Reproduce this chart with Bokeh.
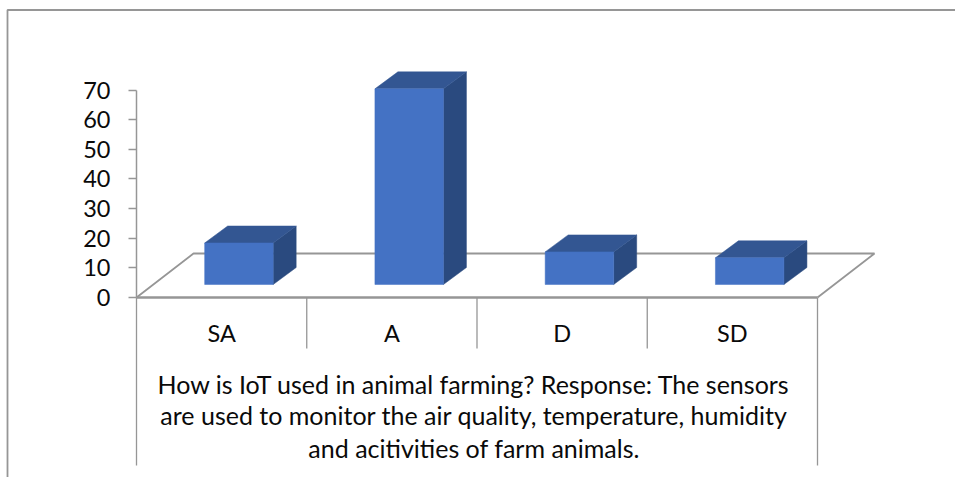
from bokeh.plotting import figure
from bokeh.models import Range1d, LinearAxis, FixedTicker
from bokeh.core.properties import value
from bokeh.embed import file_html
from bokeh.resources import INLINE

categories = ["SA", "A", "D", "SD"]
values = [14, 66, 11, 9]
y_ticks = [0, 10, 20, 30, 40, 50, 60, 70]
caption = ["How is IoT used in animal farming? Response: The sensors",
           "are used to monitor the air quality, temperature, humidity",
           "and acitivities of farm animals."]

W, H = 955, 477
PX_X = 170.25          # pixels per category
PX_Y = 207.5 / 70      # pixels per value unit
OX, OY = 136, 297      # origin inside the figure

FONT = "Lato"
GREY = "#969696"
FRONT, SIDE, TOP = "#4472c4", "#2a4a7f", "#335692"

p = figure(width=W, height=H, output_backend="svg", toolbar_location=None,
           x_range=Range1d(-OX / PX_X, (W - OX) / PX_X),
           y_range=Range1d(-(H - OY) / PX_Y, OY / PX_Y),
           x_axis_type=None, y_axis_type=None,
           min_border=0, min_border_left=0, min_border_right=0,
           min_border_top=0, min_border_bottom=0, outline_line_color=None)
p.grid.visible = False

yax = LinearAxis(ticker=FixedTicker(ticks=y_ticks), fixed_location=0, bounds=(0, 70))
yax.axis_line_color = GREY
yax.axis_line_width = 1.5
yax.major_tick_line_color = GREY
yax.major_tick_line_width = 1.5
yax.major_tick_in = 0
yax.major_tick_out = 8
yax.minor_tick_line_color = None
yax.major_label_standoff = 18
yax.major_label_text_font = FONT
yax.major_label_text_font_size = "23.5px"
yax.major_label_text_color = "#0a0a0a"
p.add_layout(yax, "left")

xax = LinearAxis(ticker=FixedTicker(ticks=[i + 0.5 for i in range(len(categories))]),
                 major_label_overrides={i + 0.5: c for i, c in enumerate(categories)},
                 fixed_location=0)
xax.axis_line_color = None
xax.major_tick_line_color = None
xax.minor_tick_line_color = None
xax.major_label_standoff = 15
xax.major_label_text_font = FONT
xax.major_label_text_font_size = "23.5px"
xax.major_label_text_color = "#0a0a0a"
p.add_layout(xax, "below")

n = len(categories)
# floor parallelogram
DX, DY = 57 / PX_X, 44 / PX_Y
p.line([0, DX, n + DX, n], [0, DY, DY, 0], line_color=GREY, line_width=1.8)
p.line([0, n], [0, 0], line_color=GREY, line_width=2.5)

# category separators
SEP = 51 / PX_Y
LOW = (H - OY) / PX_Y
p.segment([1, 2, 3], [0] * 3, [1, 2, 3], [-SEP] * 3, line_color=GREY, line_width=1.3)
p.segment([0, n], [0, 0], [0, n], [-168 / PX_Y] * 2, line_color=GREY, line_width=1.3)

# outer frame (open at the right and bottom of the picture)
FL, FT = (7 - OX) / PX_X, (OY - 9.5) / PX_Y
p.line([FL, FL, (W - OX) / PX_X], [-LOW, FT, FT], line_color=GREY, line_width=1.8)

# 3-D bars
BW = 68.5 / PX_X
GAP = (1 - BW) / 2 + 17.3 / PX_X
ddx, ddy = 23 / PX_X, 17 / PX_Y
base = 13 / PX_Y
for i, v in enumerate(values):
    l, r = i + GAP, i + GAP + BW
    b, t = base, base + v
    p.patch([r, r + ddx, r + ddx, r], [b, b + ddy, t + ddy, t], fill_color=SIDE, line_color=SIDE, line_width=0.5)
    p.patch([l, l + ddx, r + ddx, r], [t, t + ddy, t + ddy, t], fill_color=TOP, line_color=TOP, line_width=0.5)
    p.patch([l, r, r, l], [b, b, t, t], fill_color=FRONT, line_color=FRONT, line_width=0.5)

# caption
ys = [-(383.5 - 297) / PX_Y, -(414.5 - 297) / PX_Y, -(447 - 297) / PX_Y]
p.text([n / 2 - 0.017] * 3, ys, text=caption, text_font=value(FONT), text_font_size="25px",
       text_color="#0a0a0a", text_align="center", text_baseline="middle")

open("out.html", "w").write(file_html(p, INLINE))
